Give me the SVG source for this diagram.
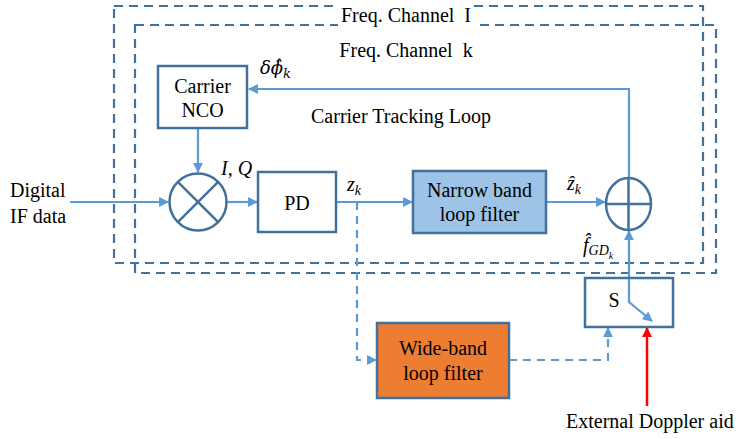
<svg xmlns="http://www.w3.org/2000/svg" width="738" height="439" viewBox="0 0 738 439">
<defs>
<style>
.t{font-family:"Liberation Serif","Times New Roman",serif;font-size:20px;fill:#000}
.m{font-family:"Liberation Serif","DejaVu Serif","Times New Roman",serif;font-style:italic;font-size:20px;fill:#000}
.frame{fill:none;stroke:#41719C;stroke-width:2.2;stroke-dasharray:9 6}
.box{stroke:#41719C;stroke-width:2.5}
.c{fill:none;stroke:#5B9BD5;stroke-width:2.2}
.cd{fill:none;stroke:#5B9BD5;stroke-width:2.2;stroke-dasharray:8 6}
.sym{fill:none;stroke:#41719C;stroke-width:2.5}
</style>
<marker id="a" viewBox="0 0 10 10" refX="9" refY="5" markerWidth="4.5" markerHeight="4.5" orient="auto" markerUnits="strokeWidth">
<path d="M0,0 L10,5 L0,10 z" fill="#5B9BD5"/>
</marker>
<marker id="r" viewBox="0 0 10 10" refX="9" refY="5" markerWidth="4" markerHeight="4" orient="auto" markerUnits="strokeWidth">
<path d="M0,0 L10,5 L0,10 z" fill="#FF0000"/>
</marker>
</defs>
<rect width="738" height="439" fill="#fff"/>
<g id="frames">
<rect class="frame" x="114" y="6" width="589" height="257"/>
<rect class="frame" x="135" y="25" width="581" height="248"/>
<rect x="338" y="4" width="136" height="23" fill="#fff"/>
<text class="t" x="406" y="22" text-anchor="middle" xml:space="preserve">Freq. Channel  I</text>
<text class="t" x="406" y="57" text-anchor="middle" xml:space="preserve">Freq. Channel  k</text>
<text class="t" x="401" y="123" text-anchor="middle">Carrier Tracking Loop</text>
</g>
<g id="connectors">
<line class="c" x1="70" y1="202" x2="168" y2="202" marker-end="url(#a)"/>
<line class="c" x1="198" y1="128" x2="198" y2="172" marker-end="url(#a)"/>
<line class="c" x1="227" y1="202" x2="257" y2="202" marker-end="url(#a)"/>
<line class="c" x1="336" y1="202" x2="412" y2="202" marker-end="url(#a)"/>
<line class="c" x1="546" y1="202" x2="605" y2="202" marker-end="url(#a)"/>
<polyline class="c" points="629,178 629,89 249,89" marker-end="url(#a)"/>
<line class="c" x1="629" y1="302" x2="629" y2="231" marker-end="url(#a)"/>
<polyline class="c" points="629,300 629,302 652,321" marker-end="url(#a)"/>
<polyline class="cd" points="357,202 357,360 376,360" marker-end="url(#a)"/>
<polyline class="cd" points="509,360 608,360 608,328" marker-end="url(#a)"/>
<line x1="647" y1="406" x2="647" y2="328" stroke="#FF0000" stroke-width="2.5" marker-end="url(#r)"/>
</g>
<g id="nco">
<rect class="box" x="158" y="66" width="89" height="62" fill="#fff"/>
<text class="t" x="202.5" y="93" text-anchor="middle">Carrier</text>
<text class="t" x="202.5" y="117" text-anchor="middle">NCO</text>
</g>
<g id="mixer">
<circle class="sym" cx="198" cy="202" r="28.5" fill="#fff"/>
<line class="sym" x1="177.8" y1="181.8" x2="218.2" y2="222.2"/>
<line class="sym" x1="218.2" y1="181.8" x2="177.8" y2="222.2"/>
</g>
<g id="pd">
<rect class="box" x="258" y="172" width="78" height="60" fill="#fff"/>
<text class="t" x="297" y="210" text-anchor="middle">PD</text>
</g>
<g id="nbfilter">
<rect class="box" x="413" y="171" width="133" height="62" fill="#9DC3E6"/>
<text class="t" x="479.5" y="197" text-anchor="middle">Narrow band</text>
<text class="t" x="479.5" y="221" text-anchor="middle">loop filter</text>
</g>
<g id="sum">
<ellipse class="sym" cx="628.5" cy="204" rx="22.5" ry="26" fill="#fff"/>
<line class="sym" x1="628.5" y1="178" x2="628.5" y2="230"/>
<line class="sym" x1="606" y1="204" x2="651" y2="204"/>
</g>
<g id="switch">
<rect class="box" x="585" y="278" width="88" height="49" fill="none"/>
<text class="t" x="614" y="307" text-anchor="middle">S</text>
</g>
<g id="wbfilter">
<rect class="box" x="377" y="323" width="132" height="75" fill="#ED7D31"/>
<text class="t" x="443" y="355" text-anchor="middle">Wide-band</text>
<text class="t" x="443" y="380" text-anchor="middle">loop filter</text>
</g>
<g id="labels">
<text class="t" x="10" y="197">Digital</text>
<text class="t" x="10" y="223">IF data</text>
<text class="t" x="566" y="428">External Doppler aid</text>
<text class="m" x="260" y="74" style="font-family:'DejaVu Serif',serif;font-size:18px">δϕ̂<tspan font-size="13" dy="4">k</tspan></text>
<text class="m" x="221" y="175">I, Q</text>
<text class="m" x="347" y="191">z<tspan font-size="14" dy="4">k</tspan></text>
<text class="m" x="567" y="190">ẑ<tspan font-size="14" dy="4">k</tspan></text>
<text class="m" x="583" y="252">f̂<tspan font-size="14" dy="3">GD</tspan><tspan font-size="10" dy="4">k</tspan></text>
</g>
</svg>
